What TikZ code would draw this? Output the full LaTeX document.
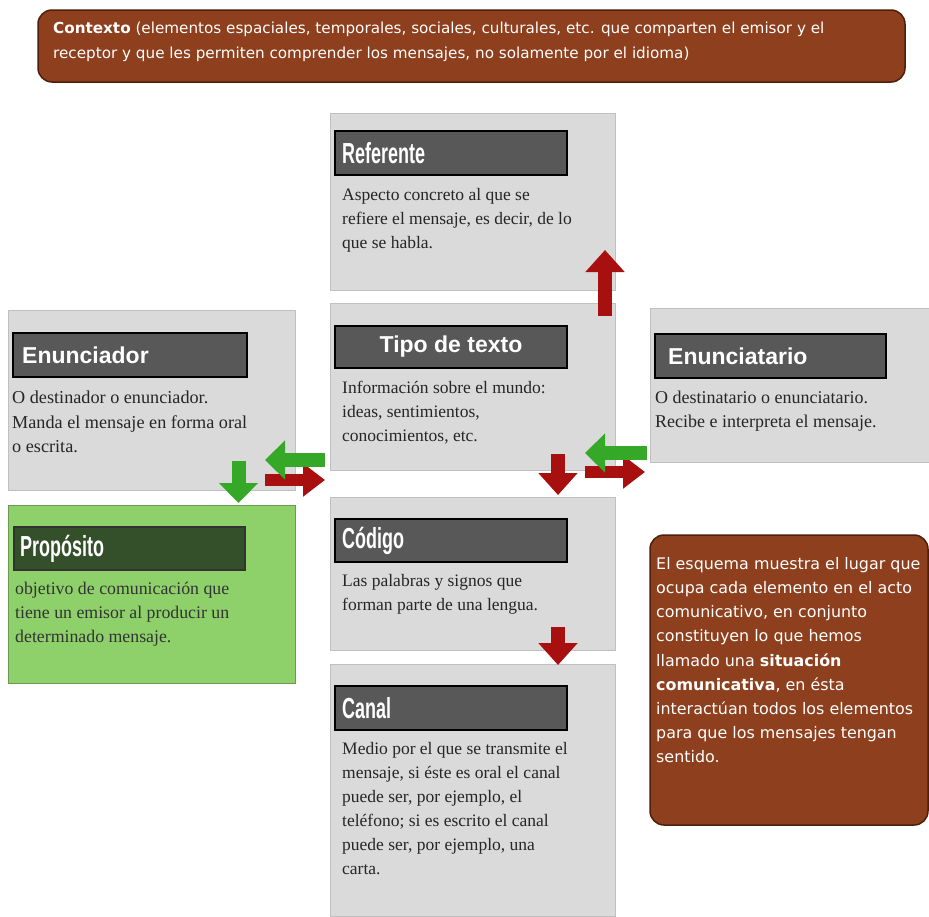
\documentclass[tikz,border=0pt]{standalone}
\usepackage{fontspec}
\usepackage{graphicx}
\setmainfont{Liberation Serif}
\newfontfamily\sansf{Liberation Sans}
\newfontfamily\tahomalike{DejaVu Sans}
\usetikzlibrary{arrows.meta}
\definecolor{brownbox}{HTML}{8E3F1D}
\definecolor{brownedge}{HTML}{4E200C}
\definecolor{panelgray}{HTML}{DADADA}
\definecolor{bargray}{HTML}{585858}
\definecolor{greenpanel}{HTML}{8ED06A}
\definecolor{greenbar}{HTML}{34502A}
\definecolor{arrred}{HTML}{A80F0F}
\definecolor{arrgreen}{HTML}{36A828}
\newcommand{\condtitle}[1]{\scalebox{0.62}[1]{\sansf\bfseries\fontsize{29}{29}\selectfont #1}}
\tikzset{
  panel/.style={fill=panelgray, draw=panelgray!88!black, line width=0.6pt},
  gpanel/.style={fill=greenpanel, draw=greenpanel!75!black, line width=0.8pt},
  titlebar/.style={fill=bargray, draw=black, line width=1.2pt},
  gtitlebar/.style={fill=greenbar, draw=black!80, line width=1.2pt},
  brownbx/.style={fill=brownbox, draw=brownedge, line width=1.5pt, rounded corners=14pt},
  bodytext/.style={anchor=north west, inner sep=0pt, align=left, font=\fontsize{17.5}{24}\selectfont, text=black!85},
  sanstitle/.style={anchor=west, inner sep=0pt, text=white, font=\sansf\bfseries\fontsize{23}{23}\selectfont},
  condtitlenode/.style={anchor=west, inner sep=0pt, text=white},
  brownlabel/.style={anchor=north west, inner sep=0pt, align=left, text=white},
  redarrow/.style={draw=arrred, line width=14pt, -{Triangle[width=38pt,length=22pt]}},
  greenarrow/.style={draw=arrgreen, line width=14pt, -{Triangle[width=38pt,length=20pt]}},
  redsmall/.style={draw=arrred, line width=12pt, -{Triangle[width=32pt,length=22pt]}},
}
\begin{document}
\begin{tikzpicture}[x=1pt,y=-1pt]
\useasboundingbox (0,0) rectangle (929,916);
\fill[white] (0,0) rectangle (929,916);

% Context box
\draw[brownbx] (38,10) rectangle (905,82);
\node[brownlabel, font=\tahomalike\fontsize{15.2}{25}\selectfont] (ctx) at (53,22)
  {\textbf{Contexto} (elementos espaciales, temporales, sociales, culturales, etc. que comparten el emisor y el\\
   receptor y que les permiten comprender los mensajes, no solamente por el idioma)};

% Referente
\draw[panel] (330,113) rectangle (615,290);
\draw[titlebar] (335,131) rectangle (567,175);
\node[condtitlenode] (ref) at (342,153) {\condtitle{Referente}};
\node[bodytext] (reftxt) at (342,188) {Aspecto concreto al que se\\ refiere el mensaje, es decir, de lo\\ que se habla.};

% Enunciador
\draw[panel] (8,310) rectangle (295,490);
\draw[titlebar] (13,333) rectangle (247,377);
\node[sanstitle] (enr) at (22,355) {Enunciador};
\node[bodytext, font=\fontsize{18.2}{24.5}\selectfont] (enrtxt) at (12,391) {O destinador o enunciador.\\ Manda el mensaje en forma oral\\ o escrita.};

% Tipo de texto
\draw[panel] (330,303) rectangle (615,470);
\draw[titlebar] (335,326) rectangle (567,368);
\node[anchor=center, inner sep=0pt, text=white, font=\sansf\bfseries\fontsize{23}{23}\selectfont] (tipo) at (451,347) {Tipo de texto};
\node[bodytext] (tipotxt) at (342,381) {Información sobre el mundo:\\ ideas, sentimientos,\\ conocimientos, etc.};

% Enunciatario
\draw[panel] (650,308) rectangle (929,462);
\draw[titlebar] (655,334) rectangle (886,378);
\node[sanstitle] (eno) at (668,356) {Enunciatario};
\node[bodytext, font=\fontsize{18}{24}\selectfont] (enotxt) at (655,391) {O destinatario o enunciatario.\\ Recibe e interpreta el mensaje.};

% Proposito
\draw[gpanel] (8,505) rectangle (295,683);
\draw[gtitlebar] (14,527) rectangle (245,570);
\node[condtitlenode] (prop) at (20,549) {\condtitle{Propósito}};
\node[bodytext, text=black!80, font=\fontsize{17.8}{24}\selectfont] (proptxt) at (15,582) {objetivo de comunicación que\\ tiene un emisor al producir un\\ determinado mensaje.};

% Codigo
\draw[panel] (330,497) rectangle (615,650);
\draw[titlebar] (335,519) rectangle (567,562);
\node[condtitlenode] (cod) at (342,541) {\condtitle{Código}};
\node[bodytext] (codtxt) at (342,574) {Las palabras y signos que\\ forman parte de una lengua.};

% Canal
\draw[panel] (330,664) rectangle (615,916);
\draw[titlebar] (335,686) rectangle (567,730);
\node[condtitlenode] (can) at (342,708) {\condtitle{Canal}};
\node[bodytext] (cantxt) at (342,742) {Medio por el que se transmite el\\ mensaje, si éste es oral el canal\\ puede ser, por ejemplo, el\\ teléfono; si es escrito el canal\\ puede ser, por ejemplo, una\\ carta.};

% Right explanatory box
\draw[brownbx] (650,535) rectangle (928,825);
\node[brownlabel, font=\tahomalike\fontsize{15.9}{24.2}\selectfont] (nota) at (656,557)
  {El esquema muestra el lugar que\\ ocupa cada elemento en el acto\\ comunicativo, en conjunto\\ constituyen lo que hemos\\ llamado una \textbf{situación}\\ \textbf{comunicativa}, en ésta\\ interactúan todos los elementos\\ para que los mensajes tengan\\ sentido.};

% Arrow end points
\coordinate (upA) at (605,316);
\coordinate (upB) at (605,250);
\coordinate (gdA) at (238.5,461);
\coordinate (gdB) at (238.5,503);
\coordinate (gl1A) at (325,460);
\coordinate (gl1B) at (265,460);
\coordinate (rr1A) at (265,480);
\coordinate (rr1B) at (325,480);
\coordinate (rd1A) at (558,454);
\coordinate (rd1B) at (558,495);
\coordinate (gl2A) at (647,453);
\coordinate (gl2B) at (585,453);
\coordinate (rr2A) at (585,472);
\coordinate (rr2B) at (645,472);
\coordinate (rd2A) at (558,627);
\coordinate (rd2B) at (558,665);

% Arrows
\draw[redarrow] (upA) -- (upB);
\draw[greenarrow] (gdA) -- (gdB);
\draw[redsmall] (rr1A) -- (rr1B);
\draw[greenarrow] (gl1A) -- (gl1B);
\draw[redarrow] (rd1A) -- (rd1B);
\draw[redsmall] (rr2A) -- (rr2B);
\draw[greenarrow] (gl2A) -- (gl2B);
\draw[redarrow] (rd2A) -- (rd2B);
\end{tikzpicture}
\end{document}
